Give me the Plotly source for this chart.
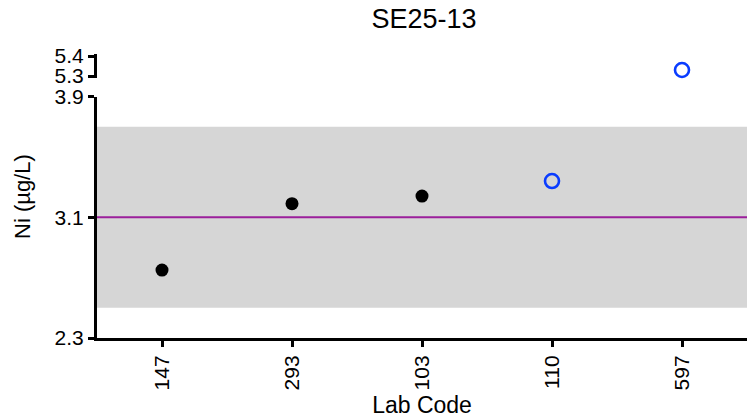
import plotly.graph_objects as go

# ---- data ----
lab_codes = ["147", "293", "103", "110", "597"]
ni_values = [2.75, 3.19, 3.24, 3.34, 5.33]
is_open = [False, False, False, True, True]
assigned_value = 3.1
band_low = 2.5
band_high = 3.7
lower_ticks = [2.3, 3.1, 3.9]
upper_ticks = [5.3, 5.4]
break_at = 3.9

FONT = "Liberation Sans, Arial, sans-serif"
BLUE = "#0a3cff"

fig = go.Figure()

def add_group(filled, axis_upper):
    xs, ys = [], []
    for lab, v, o in zip(lab_codes, ni_values, is_open):
        if (not o) == filled and ((v > break_at) == axis_upper):
            xs.append(lab)
            ys.append(v)
    if not xs:
        return
    if filled:
        marker = dict(symbol="circle", size=13, color="black")
    else:
        marker = dict(symbol="circle-open", size=14, color=BLUE, line=dict(width=2.6, color=BLUE))
    fig.add_trace(go.Scatter(x=xs, y=ys, mode="markers", marker=marker,
                             yaxis="y2" if axis_upper else "y", xaxis="x",
                             showlegend=False, cliponaxis=False))

for f in (True, False):
    for up in (False, True):
        add_group(f, up)

# band and assigned value line
fig.add_shape(type="rect", xref="x domain", yref="y", x0=0, x1=1, y0=band_low, y1=band_high,
              fillcolor="#d6d6d6", line=dict(width=0), layer="below")
fig.add_shape(type="line", xref="x domain", yref="y", x0=0, x1=1, y0=assigned_value, y1=assigned_value,
              line=dict(color="#9b1f9b", width=2.2), layer="below")

W, H = 747, 418
l, t, b = 97, 54, 80
ph = H - t - b
pw = W - l

axis_common = dict(showline=True, linewidth=3, linecolor="black", ticks="outside",
                   ticklen=6, tickwidth=3, tickcolor="black", showgrid=False, zeroline=False,
                   tickfont=dict(family=FONT, size=21, color="black"))

fig.update_layout(
    width=W, height=H,
    margin=dict(l=l, r=0, t=t, b=b),
    paper_bgcolor="white", plot_bgcolor="white",
    title=dict(text="SE25-13", x=424 / W, xanchor="center", y=1 - 19 / H, yanchor="middle",
               yref="container", font=dict(family=FONT, size=27, color="black")),
    xaxis=dict(type="category", categoryorder="array", categoryarray=lab_codes,
               range=[-0.5, 4.5], tickangle=-90, anchor="y",
               title=dict(text="Lab Code", font=dict(family=FONT, size=23, color="black"), standoff=8),
               **axis_common),
    yaxis=dict(range=[2.3, 3.9], domain=[0, (338 - 96.5) / ph], tickvals=lower_ticks,
               ticktext=[f"{v:.1f}" for v in lower_ticks], anchor="x", **axis_common),
    yaxis2=dict(range=[5.29, 5.41], domain=[(338 - 78) / ph, 1.0], tickvals=upper_ticks,
                ticktext=[f"{v:.1f}" for v in upper_ticks], anchor="x", **axis_common),
)

fig.add_annotation(text="Ni (µg/L)", textangle=-90, xref="paper", yref="paper",
                   x=(22 - l) / pw, y=(338 - 197) / ph, xanchor="center", yanchor="middle",
                   showarrow=False, font=dict(family=FONT, size=22, color="black"))

fig.write_html("out.html", config={"displayModeBar": False},
               post_script="document.body.style.margin='0';document.body.style.padding='0';")
